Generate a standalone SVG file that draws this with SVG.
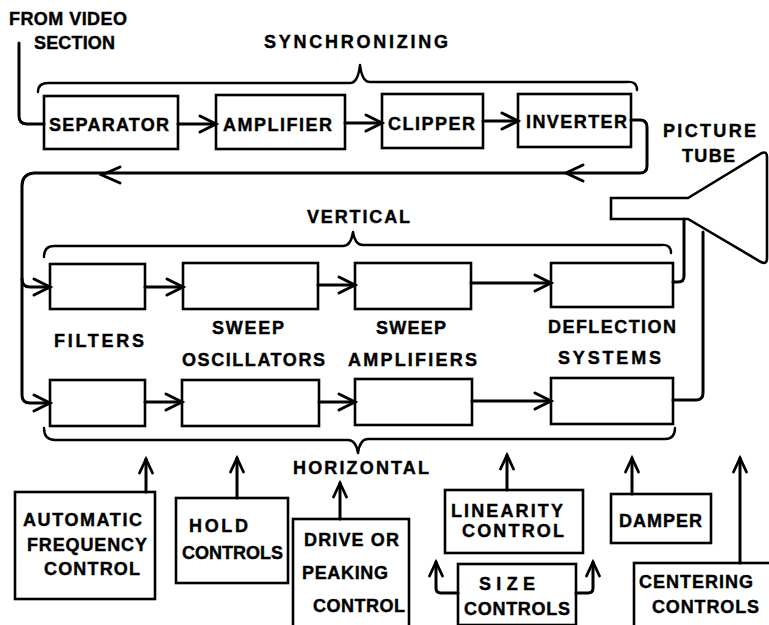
<svg xmlns="http://www.w3.org/2000/svg" width="769" height="625" viewBox="0 0 769 625">
<style>
.t{font-family:"Liberation Sans",Arial,sans-serif;font-weight:bold;font-size:18px;fill:#000;stroke:#000;stroke-width:0.4}
.box{fill:none;stroke:#000;stroke-width:2.6}
.ln{fill:none;stroke:#000;stroke-width:3;stroke-linejoin:round;stroke-linecap:round}
.br{fill:none;stroke:#000;stroke-width:2.4;stroke-linecap:round;stroke-linejoin:round}
.ah{fill:none;stroke:#000;stroke-width:3;stroke-linecap:round;stroke-linejoin:miter}
</style>
<defs>
<marker id="arr" markerUnits="userSpaceOnUse" markerWidth="22" markerHeight="22" viewBox="0 0 22 22" refX="19" refY="11" orient="auto" overflow="visible">
<path d="M3,3 L19,11 L3,19" fill="none" stroke="#000" stroke-width="3" stroke-linecap="round"/>
</marker>
<marker id="arrs" markerUnits="userSpaceOnUse" markerWidth="20" markerHeight="20" viewBox="0 0 20 20" refX="17" refY="10" orient="auto" overflow="visible">
<path d="M3,3.5 L17,10 L3,16.5" fill="none" stroke="#000" stroke-width="2.8" stroke-linecap="round"/>
</marker>
</defs>
<rect width="769" height="625" fill="#fff"/>

<g id="connectors">
<path class="ln" d="M19,43 V116 Q19,124 27,124 H44"/>
<path class="ln" d="M178,124 H216" marker-end="url(#arr)"/>
<path class="ln" d="M345,123 H382" marker-end="url(#arr)"/>
<path class="ln" d="M483,121 H518" marker-end="url(#arr)"/>
<path class="ln" d="M631,120 H640 Q647,120 647,127 V166 Q647,173 640,173 H34 Q22,174 22,186 V395 Q22,403 30,403 H50" marker-end="url(#arr)"/>
<path class="ln" d="M22,279 Q22,287 30,287 H50" marker-end="url(#arr)"/>
<path class="ah" d="M583,165 L566,173 L583,181"/>
<path class="ah" d="M120,167 L102,175 L120,183"/>
<path class="ln" d="M145,287 H183" marker-end="url(#arr)"/>
<path class="ln" d="M318,285 H355" marker-end="url(#arr)"/>
<path class="ln" d="M471,283 H551" marker-end="url(#arr)"/>
<path class="ln" d="M145,402 H182" marker-end="url(#arr)"/>
<path class="ln" d="M319,402 H355" marker-end="url(#arr)"/>
<path class="ln" d="M472,401 H551" marker-end="url(#arr)"/>
<path class="ln" d="M673,282 H678 Q684,282 684,276 V219"/>
<path class="ln" d="M673,400 H696 Q703,400 703,393 V232"/>
<path class="ln" d="M146,492 V459" marker-end="url(#arrs)"/>
<path class="ln" d="M237,498 V458" marker-end="url(#arrs)"/>
<path class="ln" d="M340,519 V483" marker-end="url(#arrs)"/>
<path class="ln" d="M507,490 V455" marker-end="url(#arrs)"/>
<path class="ln" d="M632,494 V458" marker-end="url(#arrs)"/>
<path class="ln" d="M740,563 V458" marker-end="url(#arrs)"/>
<path class="ln" d="M458,593 H441 Q436,593 436,588 V562" marker-end="url(#arrs)"/>
<path class="ln" d="M576,593 H588 Q593,593 593,588 V562" marker-end="url(#arrs)"/>
</g>

<g id="braces">
<path class="br" d="M38,92 Q38,83 48,83 H350 Q358,83 360,65 Q362,82 370,82 H627 Q637,81 637,90"/>
<path class="br" d="M44,257 Q44,246 54,246 H343 Q351,246 353,232 Q355,245 363,245 H661 Q671,244 671,253"/>
<path class="br" d="M44,428 Q44,440 55,440 H348 Q356,440 358,453 Q360,439 368,439 H665 Q675,439 675,428"/>
</g>

<g id="labels">
<text class="t" x="9" y="25" textLength="118" lengthAdjust="spacing">FROM VIDEO</text>
<text class="t" x="34" y="49" textLength="81" lengthAdjust="spacing">SECTION</text>
<text class="t" x="264" y="48" textLength="184" lengthAdjust="spacing">SYNCHRONIZING</text>
<text class="t" x="307" y="223" textLength="103" lengthAdjust="spacing">VERTICAL</text>
<text class="t" x="293" y="474" textLength="136" lengthAdjust="spacing">HORIZONTAL</text>
<text class="t" x="54" y="347" textLength="90" lengthAdjust="spacing">FILTERS</text>
<text class="t" x="212" y="334" textLength="72" lengthAdjust="spacing">SWEEP</text>
<text class="t" x="182" y="366" textLength="143" lengthAdjust="spacing">OSCILLATORS</text>
<text class="t" x="376" y="334" textLength="70" lengthAdjust="spacing">SWEEP</text>
<text class="t" x="348" y="366" textLength="129" lengthAdjust="spacing">AMPLIFIERS</text>
<text class="t" x="548" y="333" textLength="128" lengthAdjust="spacing">DEFLECTION</text>
<text class="t" x="558" y="364" textLength="103" lengthAdjust="spacing">SYSTEMS</text>
</g>

<g id="separator">
<rect class="box" x="44" y="96" width="134" height="53"/>
<text class="t" x="49" y="131" textLength="120" lengthAdjust="spacing">SEPARATOR</text>
</g>
<g id="amplifier">
<rect class="box" x="216" y="95" width="129" height="54"/>
<text class="t" x="223" y="131" textLength="109" lengthAdjust="spacing">AMPLIFIER</text>
</g>
<g id="clipper">
<rect class="box" x="382" y="94" width="101" height="54"/>
<text class="t" x="388" y="130" textLength="87" lengthAdjust="spacing">CLIPPER</text>
</g>
<g id="inverter">
<rect class="box" x="518" y="94" width="113" height="53"/>
<text class="t" x="526" y="128" textLength="101" lengthAdjust="spacing">INVERTER</text>
</g>

<g id="picture-tube">
<path class="box" d="M611,198 H688 L762,153 Q767,151 767,157 V258 Q767,265 761,262 L688,219 H611 Z"/>
<text class="t" x="663" y="137" textLength="93" lengthAdjust="spacing">PICTURE</text>
<text class="t" x="682" y="162" textLength="53" lengthAdjust="spacing">TUBE</text>
</g>

<g id="v-filters"><rect class="box" x="50" y="264" width="95" height="45"/></g>
<g id="v-sweep-osc"><rect class="box" x="183" y="263" width="135" height="46"/></g>
<g id="v-sweep-amp"><rect class="box" x="355" y="263" width="116" height="46"/></g>
<g id="v-deflection"><rect class="box" x="551" y="263" width="122" height="44"/></g>

<g id="h-filters"><rect class="box" x="50" y="380" width="95" height="46"/></g>
<g id="h-sweep-osc"><rect class="box" x="182" y="380" width="137" height="46"/></g>
<g id="h-sweep-amp"><rect class="box" x="355" y="379" width="117" height="46"/></g>
<g id="h-deflection"><rect class="box" x="551" y="378" width="122" height="46"/></g>

<g id="afc">
<rect class="box" x="15" y="492" width="140" height="107"/>
<text class="t" x="23" y="526" textLength="119" lengthAdjust="spacing">AUTOMATIC</text>
<text class="t" x="27" y="551" textLength="120" lengthAdjust="spacing">FREQUENCY</text>
<text class="t" x="44" y="575" textLength="96" lengthAdjust="spacing">CONTROL</text>
</g>
<g id="hold">
<rect class="box" x="176" y="498" width="112" height="85"/>
<text class="t" x="189" y="532" textLength="59" lengthAdjust="spacing">HOLD</text>
<text class="t" x="182" y="559" textLength="101" lengthAdjust="spacing">CONTROLS</text>
</g>
<g id="drive">
<rect class="box" x="293" y="519" width="116" height="112"/>
<text class="t" x="304" y="546" textLength="95" lengthAdjust="spacing">DRIVE OR</text>
<text class="t" x="302" y="579" textLength="86" lengthAdjust="spacing">PEAKING</text>
<text class="t" x="313" y="612" textLength="92" lengthAdjust="spacing">CONTROL</text>
</g>
<g id="linearity">
<rect class="box" x="445" y="490" width="138" height="63"/>
<text class="t" x="451" y="517" textLength="112" lengthAdjust="spacing">LINEARITY</text>
<text class="t" x="462" y="537" textLength="102" lengthAdjust="spacing">CONTROL</text>
</g>
<g id="size">
<rect class="box" x="458" y="564" width="118" height="61"/>
<text class="t" x="479" y="590" textLength="56" lengthAdjust="spacing">SIZE</text>
<text class="t" x="464" y="615" textLength="106" lengthAdjust="spacing">CONTROLS</text>
</g>
<g id="damper">
<rect class="box" x="611" y="494" width="100" height="49"/>
<text class="t" x="619" y="527" textLength="83" lengthAdjust="spacing">DAMPER</text>
</g>
<g id="centering">
<rect class="box" x="634" y="563" width="150" height="80"/>
<text class="t" x="639" y="588" textLength="114" lengthAdjust="spacing">CENTERING</text>
<text class="t" x="652" y="613" textLength="107" lengthAdjust="spacing">CONTROLS</text>
</g>
</svg>
